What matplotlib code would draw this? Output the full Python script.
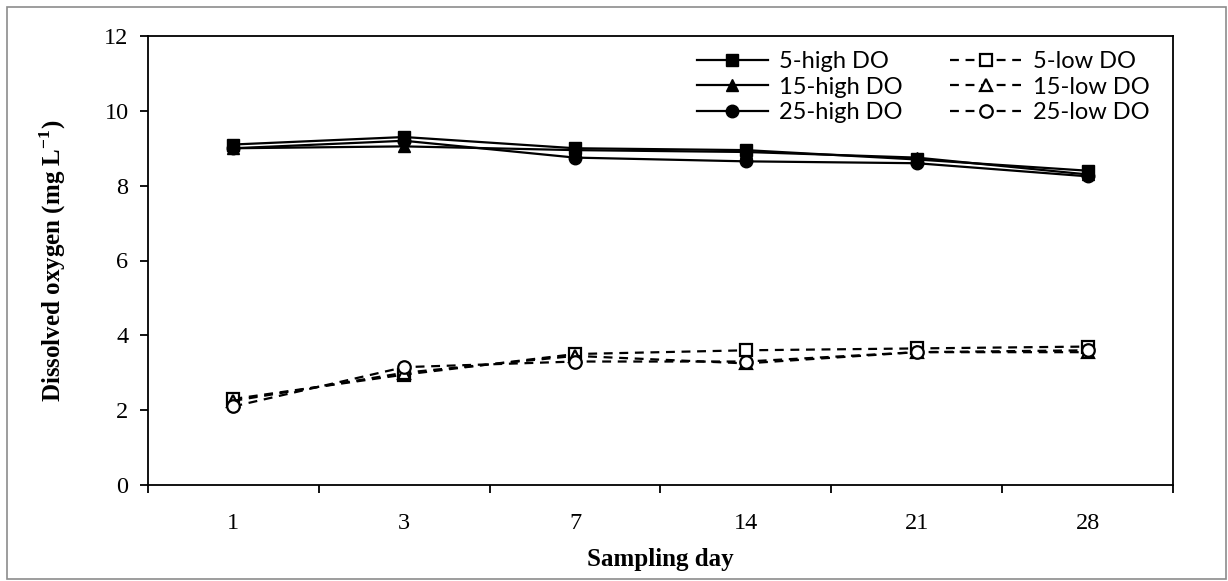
import matplotlib
matplotlib.use("Agg")
import matplotlib.pyplot as plt
from matplotlib.patches import Rectangle

days = ["1", "3", "7", "14", "21", "28"]
high_5 = [9.1, 9.3, 9.0, 8.95, 8.7, 8.4]
high_15 = [9.0, 9.05, 8.95, 8.9, 8.75, 8.3]
high_25 = [9.0, 9.2, 8.75, 8.65, 8.6, 8.25]
low_5 = [2.3, 2.95, 3.5, 3.6, 3.65, 3.7]
low_15 = [2.25, 3.0, 3.45, 3.25, 3.55, 3.55]
low_25 = [2.1, 3.15, 3.3, 3.3, 3.55, 3.6]
y_ticks = [0, 2, 4, 6, 8, 10, 12]

fig = plt.figure(figsize=(12.28, 5.81), dpi=100)
fig.patches.append(Rectangle((0.006, 0.004), 0.992, 0.984, transform=fig.transFigure,
                             fill=False, edgecolor="#8c8c8c", linewidth=1.2))
ax = fig.add_axes([148/1228, 1-485/581, (1173-148)/1228, (485-36)/581])

x = list(range(len(days)))
lw = 1.6
ms = 9
ax.plot(x, high_5, color="black", lw=lw, marker="s", ms=ms, label="5-high DO")
ax.plot(x, high_15, color="black", lw=lw, marker="^", ms=ms, label="15-high DO")
ax.plot(x, high_25, color="black", lw=lw, marker="o", ms=ms, label="25-high DO")
dash = (0, (4, 3))
ax.plot(x, low_5, color="black", lw=lw, ls=dash, marker="s", ms=ms, mfc="white", mew=1.6, label="5-low DO")
ax.plot(x, low_15, color="black", lw=lw, ls=dash, marker="^", ms=ms, mfc="white", mew=1.6, label="15-low DO")
ax.plot(x, low_25, color="black", lw=lw, ls=dash, marker="o", ms=ms, mfc="white", mew=1.6, label="25-low DO")

ax.set_xlim(-0.5, len(days) - 0.5)
ax.set_ylim(0, 12)
ax.set_yticks(y_ticks)
ax.set_xticks(x)
ax.set_xticklabels(days)
ax.set_xticks([i + 0.5 for i in range(-1, len(days))], minor=True)
ax.tick_params(axis="x", which="major", length=0, pad=20)
ax.tick_params(axis="x", which="minor", direction="out", length=6, width=1.3)
ax.tick_params(axis="y", direction="out", length=6, width=1.3, pad=8)
for lab in ax.get_xticklabels() + ax.get_yticklabels():
    lab.set_fontfamily("Liberation Serif")
    lab.set_fontsize(17.5)
for s in ax.spines.values():
    s.set_linewidth(1.3)

ax.set_xlabel("Sampling day", fontfamily="Liberation Serif", fontweight="bold", fontsize=18, labelpad=10)
ax.set_ylabel("Dissolved oxygen (mg L$^{\\mathregular{-1}}$)", fontfamily="Liberation Serif",
              fontweight="bold", fontsize=18, labelpad=26)

leg = ax.legend(ncol=2, loc="upper right", frameon=False, bbox_to_anchor=(0.998, 1.014),
                prop={"family": "Lato", "size": 17}, handlelength=3.0,
                columnspacing=2.0, labelspacing=0.2, handletextpad=0.5)

fig.savefig("out.png", dpi=100)
